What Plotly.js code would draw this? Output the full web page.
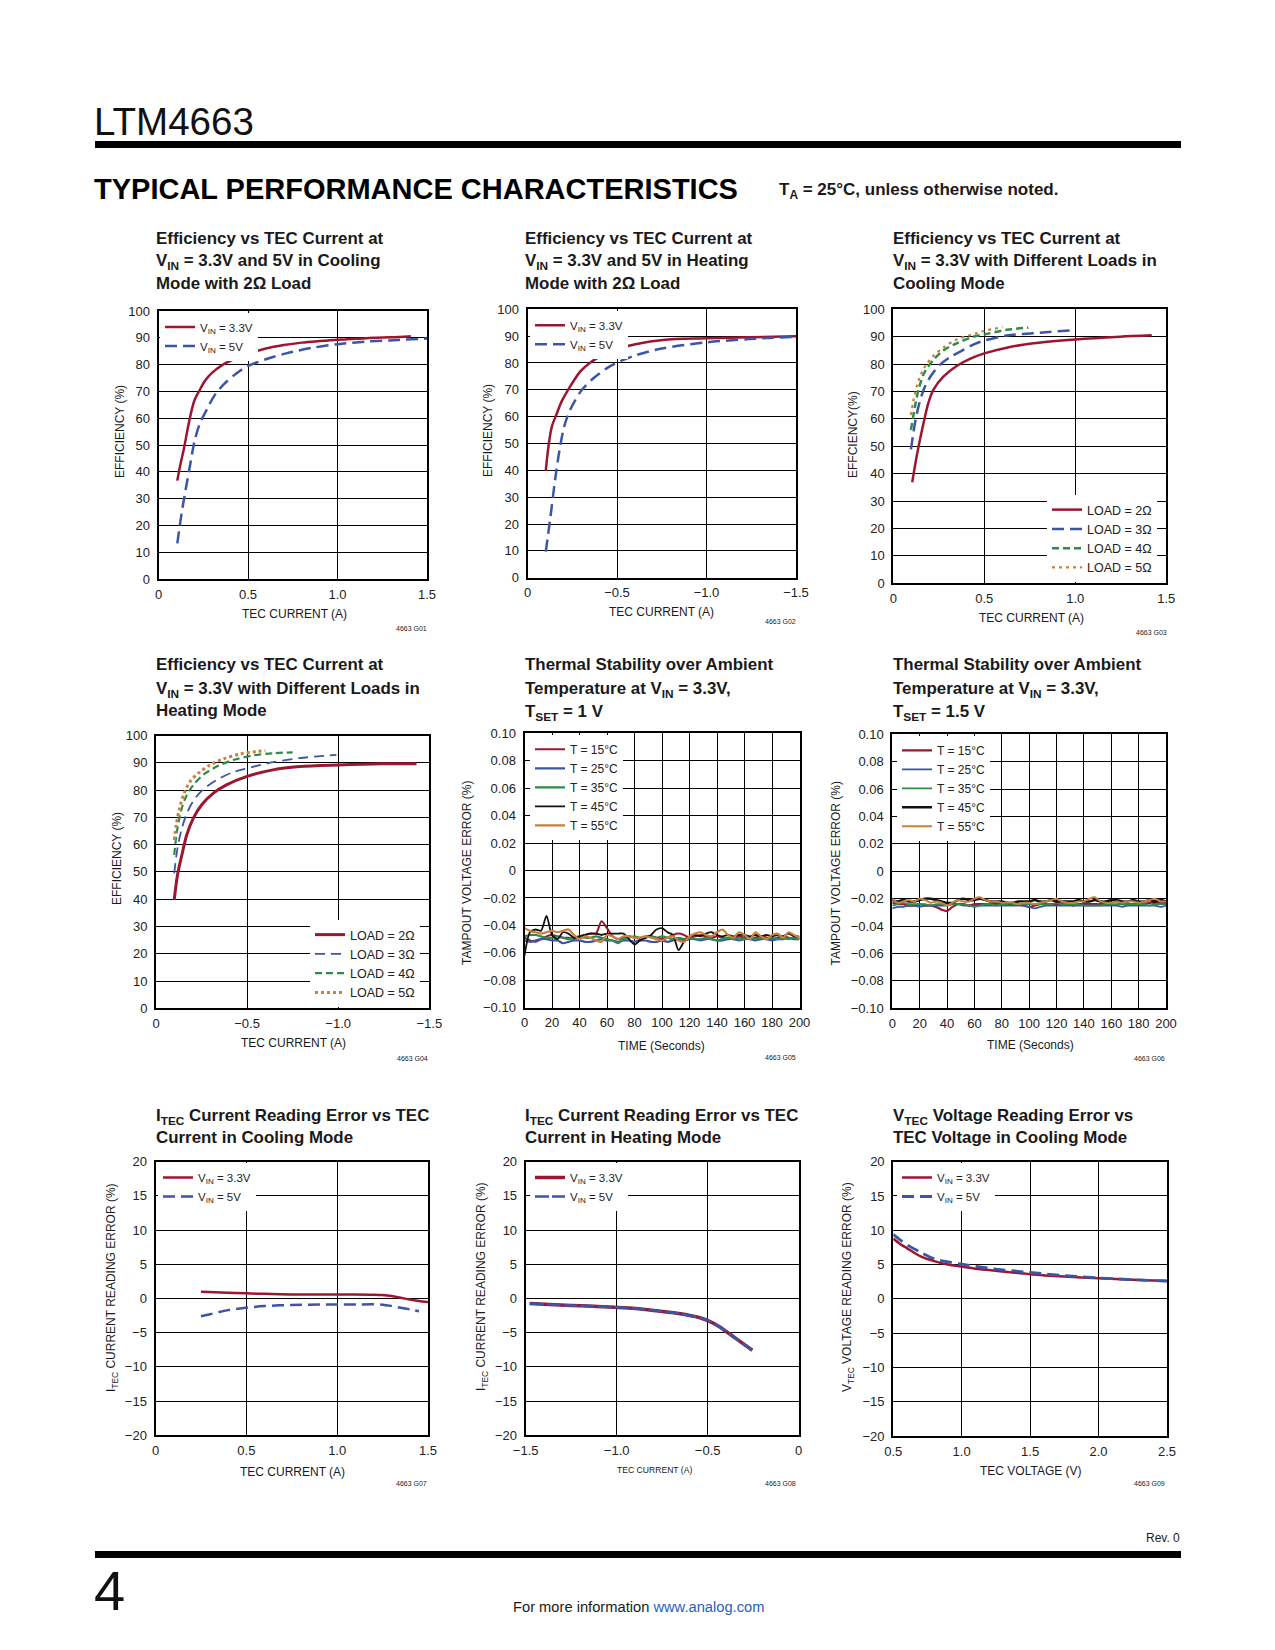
<!DOCTYPE html>
<html><head><meta charset="utf-8">
<script src="https://cdn.plot.ly/plotly-3.0.1.min.js"></script>
<style>html,body{margin:0;padding:0;background:#fff}#page{width:1275px;height:1650px}</style>
</head><body><div id="page"></div>
<script>
// ================= DATA =================
// G01 – efficiency, cooling, 2 ohm
const g01x33 = [0.105,0.12,0.143,0.172,0.2,0.23,0.26,0.3,0.36,0.42,0.5,0.6,0.7,0.8,0.9,1.0,1.1,1.2,1.3,1.41];
const g01y33 = [36.7,42,49,59,66.5,70.5,74,77,80,82,84,86,87.3,88.2,88.8,89.3,89.6,90,90.2,90.6];
const g01x5  = [0.105,0.129,0.148,0.175,0.203,0.231,0.268,0.315,0.37,0.435,0.5,0.6,0.714,0.862,1.0,1.16,1.34,1.5];
const g01y5  = [13.3,24.5,32,42,51.9,58,63,68.7,73,76.7,79.5,82,84.2,86.3,87.6,88.6,89.2,89.7];
// G02 – efficiency, heating, 2 ohm
const g02x33 = [-0.102,-0.117,-0.136,-0.164,-0.19,-0.238,-0.294,-0.35,-0.424,-0.5,-0.61,-0.758,-1.0,-1.24,-1.5];
const g02y33 = [39.8,48.8,56.3,61.2,65.6,71.2,76.8,80.1,83,85.2,87.1,88.6,89.2,89.6,90];
const g02x5  = [-0.102,-0.126,-0.154,-0.182,-0.21,-0.247,-0.303,-0.368,-0.442,-0.5,-0.61,-0.758,-1.0,-1.24,-1.35,-1.5];
const g02y5  = [9.7,21.5,36.4,48.8,57.5,63.7,69.9,74.3,78,80.1,83,85.5,87.7,88.9,89.3,89.8];
// G03 – efficiency, cooling, loads
const g03x2 = [0.104,0.128,0.15,0.174,0.192,0.22,0.275,0.348,0.421,0.5,0.623,0.77,1.0,1.245,1.42];
const g03y2 = [36.9,46.2,53.5,60.8,65.7,70.6,75.4,79.3,81.9,83.9,86,87.6,89,90,90.5];
const g03x3 = [0.097,0.119,0.143,0.174,0.21,0.256,0.311,0.385,0.44,0.5,0.623,0.77,0.98];
const g03y3 = [48.9,58.4,65.7,71.8,76,79.7,82.5,85.2,87.1,88.6,90.4,91.3,92.3];
const g03x4 = [0.097,0.119,0.143,0.174,0.22,0.275,0.348,0.44,0.5,0.623,0.742];
const g03y4 = [56,64.5,71.8,77.3,81.5,85,87.6,90,90.8,92.5,93.3];
const g03x5 = [0.097,0.11,0.132,0.156,0.183,0.22,0.275,0.348,0.44,0.5,0.6];
const g03y5 = [61.4,66.5,72.6,76.9,80,83,86,89,90.9,92.1,93.5];
// G04 – efficiency, heating, loads
const g04x2 = [-0.1,-0.118,-0.142,-0.169,-0.205,-0.251,-0.315,-0.387,-0.5,-0.642,-0.787,-1.0,-1.24,-1.43];
const g04y2 = [39.7,48.9,56.2,63.6,69.7,74.6,78.9,81.9,85,87.4,88.6,89.2,89.6,89.6];
const g04x3 = [-0.1,-0.118,-0.142,-0.173,-0.215,-0.26,-0.333,-0.424,-0.5,-0.642,-0.787,-0.99];
const g04y3 = [49.5,58.7,66,72.1,77,80.3,83.7,86.6,88,90.2,91.7,92.9];
const g04x4 = [-0.1,-0.115,-0.136,-0.165,-0.205,-0.26,-0.333,-0.424,-0.533,-0.642,-0.75];
const g04y4 = [56.2,64.8,72.1,77.6,81.9,85.6,88.6,91,92.7,93.5,93.8];
const g04x5 = [-0.1,-0.111,-0.129,-0.155,-0.187,-0.233,-0.296,-0.369,-0.46,-0.55,-0.6];
const g04y5 = [61.7,67.2,73.3,78.9,83.1,86.2,89.2,91.4,93.2,94.1,94.4];
// G05 / G06 – thermal stability, time in seconds
const tsTime = [0,4,8,12,16,20,24,28,32,36,40,44,48,52,56,60,64,68,72,76,80,84,88,92,96,100,104,108,112,116,120,124,128,132,136,140,144,148,152,156,160,164,168,172,176,180,184,188,192,196,200];
const g05t15 = [-0.049,-0.051,-0.052,-0.050,-0.048,-0.047,-0.048,-0.049,-0.049,-0.050,-0.048,-0.047,-0.046,-0.046,-0.037,-0.042,-0.048,-0.050,-0.049,-0.048,-0.049,-0.050,-0.049,-0.048,-0.049,-0.050,-0.049,-0.047,-0.046,-0.047,-0.049,-0.048,-0.047,-0.048,-0.049,-0.048,-0.049,-0.050,-0.049,-0.048,-0.049,-0.050,-0.049,-0.048,-0.049,-0.050,-0.049,-0.048,-0.049,-0.050,-0.049];
const g05t25 = [-0.051,-0.052,-0.051,-0.050,-0.050,-0.051,-0.051,-0.053,-0.052,-0.051,-0.051,-0.052,-0.052,-0.051,-0.050,-0.051,-0.051,-0.052,-0.051,-0.051,-0.052,-0.051,-0.051,-0.052,-0.052,-0.051,-0.052,-0.051,-0.050,-0.051,-0.050,-0.050,-0.051,-0.050,-0.050,-0.051,-0.051,-0.050,-0.050,-0.051,-0.050,-0.050,-0.051,-0.050,-0.050,-0.051,-0.050,-0.050,-0.049,-0.050,-0.050];
const g05t35 = [-0.048,-0.047,-0.047,-0.048,-0.049,-0.049,-0.048,-0.049,-0.050,-0.049,-0.048,-0.049,-0.049,-0.048,-0.049,-0.050,-0.051,-0.053,-0.050,-0.049,-0.048,-0.049,-0.048,-0.048,-0.049,-0.048,-0.049,-0.050,-0.049,-0.050,-0.049,-0.050,-0.050,-0.049,-0.050,-0.051,-0.050,-0.049,-0.050,-0.049,-0.050,-0.049,-0.050,-0.049,-0.050,-0.049,-0.050,-0.049,-0.050,-0.049,-0.050];
const g05t45 = [-0.062,-0.045,-0.043,-0.044,-0.033,-0.047,-0.050,-0.045,-0.046,-0.049,-0.048,-0.047,-0.046,-0.046,-0.047,-0.046,-0.046,-0.046,-0.046,-0.050,-0.054,-0.051,-0.049,-0.047,-0.043,-0.042,-0.045,-0.047,-0.058,-0.052,-0.048,-0.047,-0.048,-0.046,-0.045,-0.047,-0.048,-0.047,-0.048,-0.047,-0.047,-0.048,-0.047,-0.048,-0.047,-0.048,-0.047,-0.048,-0.046,-0.048,-0.048];
const g05t55 = [-0.042,-0.044,-0.045,-0.046,-0.045,-0.044,-0.045,-0.044,-0.043,-0.047,-0.050,-0.048,-0.049,-0.051,-0.052,-0.047,-0.048,-0.050,-0.048,-0.048,-0.049,-0.049,-0.048,-0.049,-0.050,-0.051,-0.049,-0.048,-0.051,-0.052,-0.048,-0.046,-0.045,-0.047,-0.048,-0.045,-0.043,-0.047,-0.049,-0.045,-0.047,-0.050,-0.045,-0.048,-0.050,-0.047,-0.046,-0.049,-0.045,-0.047,-0.049];
const g06t15 = [-0.023,-0.024,-0.024,-0.025,-0.025,-0.024,-0.025,-0.025,-0.026,-0.028,-0.029,-0.026,-0.024,-0.024,-0.025,-0.024,-0.024,-0.024,-0.024,-0.024,-0.024,-0.024,-0.024,-0.024,-0.025,-0.026,-0.025,-0.024,-0.024,-0.024,-0.024,-0.024,-0.024,-0.025,-0.024,-0.024,-0.024,-0.024,-0.024,-0.023,-0.021,-0.022,-0.024,-0.024,-0.024,-0.024,-0.024,-0.023,-0.023,-0.023,-0.023];
const g06t25 = [-0.027,-0.026,-0.026,-0.025,-0.025,-0.026,-0.025,-0.025,-0.025,-0.025,-0.025,-0.024,-0.024,-0.025,-0.025,-0.025,-0.025,-0.025,-0.025,-0.025,-0.025,-0.025,-0.025,-0.025,-0.025,-0.026,-0.027,-0.026,-0.025,-0.025,-0.025,-0.025,-0.025,-0.025,-0.025,-0.025,-0.025,-0.025,-0.025,-0.025,-0.025,-0.025,-0.026,-0.025,-0.025,-0.025,-0.025,-0.025,-0.025,-0.026,-0.025];
const g06t35 = [-0.025,-0.024,-0.023,-0.024,-0.024,-0.024,-0.024,-0.025,-0.024,-0.024,-0.024,-0.024,-0.024,-0.024,-0.025,-0.026,-0.025,-0.024,-0.024,-0.025,-0.024,-0.024,-0.024,-0.024,-0.024,-0.024,-0.024,-0.024,-0.024,-0.024,-0.023,-0.024,-0.024,-0.024,-0.024,-0.025,-0.025,-0.025,-0.025,-0.024,-0.024,-0.024,-0.024,-0.024,-0.024,-0.024,-0.024,-0.025,-0.024,-0.024,-0.024];
const g06t45 = [-0.021,-0.022,-0.021,-0.022,-0.022,-0.021,-0.020,-0.020,-0.021,-0.022,-0.023,-0.023,-0.021,-0.020,-0.021,-0.021,-0.020,-0.021,-0.022,-0.022,-0.022,-0.023,-0.023,-0.022,-0.022,-0.022,-0.021,-0.022,-0.022,-0.021,-0.022,-0.022,-0.022,-0.022,-0.021,-0.022,-0.022,-0.021,-0.022,-0.022,-0.021,-0.021,-0.022,-0.022,-0.021,-0.022,-0.022,-0.021,-0.022,-0.021,-0.022];
const g06t55 = [-0.020,-0.023,-0.022,-0.021,-0.022,-0.020,-0.021,-0.023,-0.022,-0.023,-0.025,-0.023,-0.021,-0.022,-0.022,-0.020,-0.019,-0.021,-0.022,-0.022,-0.023,-0.023,-0.023,-0.024,-0.023,-0.023,-0.024,-0.023,-0.022,-0.021,-0.020,-0.022,-0.023,-0.023,-0.022,-0.022,-0.020,-0.019,-0.022,-0.023,-0.023,-0.022,-0.023,-0.022,-0.022,-0.023,-0.022,-0.021,-0.020,-0.022,-0.022];
// G07 – ITEC reading error, cooling
const g07x33 = [0.25,0.4,0.5,0.6,0.75,0.9,1.0,1.1,1.2,1.25,1.3,1.35,1.4,1.45,1.5];
const g07y33 = [1.0,0.85,0.75,0.68,0.6,0.58,0.58,0.58,0.55,0.5,0.35,0.1,-0.15,-0.35,-0.5];
const g07x5  = [0.25,0.3,0.4,0.5,0.6,0.75,0.9,1.0,1.1,1.2,1.25,1.3,1.35,1.4,1.45];
const g07y5  = [-2.6,-2.3,-1.7,-1.35,-1.1,-0.95,-0.88,-0.88,-0.87,-0.85,-0.9,-1.1,-1.35,-1.6,-1.85];
// G08 – ITEC reading error, heating
const g08x33 = [-1.478,-1.369,-1.25,-1.133,-1.015,-0.896,-0.78,-0.66,-0.547,-0.496,-0.44,-0.34,-0.255];
const g08y33 = [-0.73,-0.88,-1.02,-1.12,-1.27,-1.46,-1.8,-2.2,-2.78,-3.27,-4.05,-5.95,-7.56];
const g08x5  = [-1.478,-1.369,-1.25,-1.133,-1.015,-0.896,-0.78,-0.66,-0.547,-0.496,-0.44,-0.34,-0.255];
const g08y5  = [-0.73,-0.88,-1.02,-1.12,-1.27,-1.46,-1.8,-2.2,-2.78,-3.27,-4.05,-5.95,-7.56];
// G09 – VTEC reading error, cooling
const g09x33 = [0.5,0.55,0.6,0.7,0.8,0.9,1.0,1.1,1.25,1.5,1.75,2.0,2.25,2.5];
const g09y33 = [8.8,8.0,7.4,6.2,5.5,5.0,4.7,4.4,4.1,3.6,3.25,3.0,2.8,2.6];
const g09x5  = [0.5,0.55,0.6,0.7,0.8,0.9,1.0,1.1,1.25,1.5,1.75,2.0,2.25,2.5];
const g09y5  = [9.4,8.6,7.9,6.8,5.85,5.4,5.05,4.75,4.35,3.85,3.4,3.05,2.8,2.6];

// Tick labels
const effTickVals = [0,10,20,30,40,50,60,70,80,90,100];
const effTickText = ["0","10","20","30","40","50","60","70","80","90","100"];
const coolTickVals = [0,0.5,1,1.5];
const coolTickText = ["0","0.5","1.0","1.5"];
const heatTickVals = [0,-0.5,-1,-1.5];
const heatTickText = ["0","\u22120.5","\u22121.0","\u22121.5"];
const timeTickVals = [0,20,40,60,80,100,120,140,160,180,200];
const timeTickText = ["0","20","40","60","80","100","120","140","160","180","200"];
const errTickVals = [-0.1,-0.08,-0.06,-0.04,-0.02,0,0.02,0.04,0.06,0.08,0.1];
const errTickText = ["\u22120.10","\u22120.08","\u22120.06","\u22120.04","\u22120.02","0","0.02","0.04","0.06","0.08","0.10"];
const readTickVals = [-20,-15,-10,-5,0,5,10,15,20];
const readTickText = ["\u221220","\u221215","\u221210","\u22125","0","5","10","15","20"];
const voltTickVals = [0.5,1,1.5,2,2.5];
const voltTickText = ["0.5","1.0","1.5","2.0","2.5"];

// ================= STYLE / LAYOUT =================
const W = 1275, H = 1650;
const FN = '"Liberation Sans", Arial, Helvetica, sans-serif';
const RED = '#9c1632', BLUE = '#3b56a6', GREEN = '#2f8b4a', ORANGE = '#c8803d', BLACK = '#111111';
const boxes = {
  1:[158.5,427,311,579], 2:[527.5,796,309.3,577.7], 3:[893.3,1166.3,309.3,583.3],
  4:[156,429.3,735.5,1008.3], 5:[524.5,799.5,733.3,1007.7], 6:[892.3,1166,734.3,1008.3],
  7:[155.5,428,1161.7,1435.3], 8:[525.7,798.7,1161.7,1435.3], 9:[893.2,1167,1161.7,1436]
};
const py = y => 1 - y / H;
const sfx = n => n === 1 ? '' : String(n);

function axis(n, dir, range, vals, text) {
  const b = boxes[n];
  const dom = dir === 'x' ? [b[0] / W, b[1] / W] : [1 - b[3] / H, 1 - b[2] / H];
  return {
    domain: dom, range: range, tickmode: 'array', tickvals: vals, ticktext: text,
    showgrid: true, gridcolor: '#000', gridwidth: 1,
    showline: true, mirror: true, linecolor: '#000', linewidth: 2,
    zeroline: false, ticks: '', ticklabelstandoff: dir === 'x' ? 2 : 4,
    tickfont: {family: FN, size: 13, color: '#222'},
    anchor: (dir === 'x' ? 'y' : 'x') + sfx(n), fixedrange: true
  };
}
function tr(n, name, x, y, color, width, dash, smooth) {
  return {
    type: 'scatter', mode: 'lines', x: x, y: y, name: name,
    xaxis: 'x' + sfx(n), yaxis: 'y' + sfx(n), legend: 'legend' + sfx(n),
    line: {color: color, width: width, dash: dash || 'solid', shape: 'spline', smoothing: smooth === undefined ? 0.9 : smooth},
    hoverinfo: 'skip'
  };
}
function leg(left, yy, anchorY, size) {
  return {
    x: left / W, y: py(yy), xanchor: 'left', yanchor: anchorY, xref: 'paper', yref: 'paper',
    bgcolor: '#ffffff', borderwidth: 0, font: {family: FN, size: size, color: '#222'},
    itemwidth: 30, tracegroupgap: 0, traceorder: 'normal'
  };
}
function ann(x, y, text, size, opts) {
  return Object.assign({
    xref: 'paper', yref: 'paper', x: x / W, y: py(y), text: text, showarrow: false,
    xanchor: 'left', yanchor: 'middle', font: {family: FN, size: size, color: '#1a1a1a'}
  }, opts || {});
}

const VIN33 = 'V<sub>IN</sub> = 3.3V', VIN5 = 'V<sub>IN</sub> = 5V';
const traces = [
  tr(1, VIN33, g01x33, g01y33, RED, 2.5),
  tr(1, VIN5, g01x5, g01y5, BLUE, 2.5, '12px,6px'),
  tr(2, VIN33, g02x33, g02y33, RED, 2.5),
  tr(2, VIN5, g02x5, g02y5, BLUE, 2.5, '12px,6px'),
  tr(3, 'LOAD = 2\u03a9', g03x2, g03y2, RED, 2.5),
  tr(3, 'LOAD = 3\u03a9', g03x3, g03y3, BLUE, 2.5, '12px,6px'),
  tr(3, 'LOAD = 4\u03a9', g03x4, g03y4, GREEN, 2.5, '7px,4px'),
  tr(3, 'LOAD = 5\u03a9', g03x5, g03y5, ORANGE, 2.2, '3px,4px'),
  tr(4, 'LOAD = 2\u03a9', g04x2, g04y2, RED, 3),
  tr(4, 'LOAD = 3\u03a9', g04x3, g04y3, BLUE, 1.8, '10px,6px'),
  tr(4, 'LOAD = 4\u03a9', g04x4, g04y4, GREEN, 2.2, '7px,4px'),
  tr(4, 'LOAD = 5\u03a9', g04x5, g04y5, ORANGE, 3, '3px,3px'),
  tr(5, 'T = 15\u00b0C', tsTime, g05t15, RED, 2, 'solid', 0.7),
  tr(5, 'T = 25\u00b0C', tsTime, g05t25, BLUE, 2.2, 'solid', 0.7),
  tr(5, 'T = 35\u00b0C', tsTime, g05t35, GREEN, 2.2, 'solid', 0.7),
  tr(5, 'T = 45\u00b0C', tsTime, g05t45, BLACK, 1.8, 'solid', 0.7),
  tr(5, 'T = 55\u00b0C', tsTime, g05t55, ORANGE, 2.2, 'solid', 0.7),
  tr(6, 'T = 15\u00b0C', tsTime, g06t15, RED, 2.2, 'solid', 0.7),
  tr(6, 'T = 25\u00b0C', tsTime, g06t25, BLUE, 1.8, 'solid', 0.7),
  tr(6, 'T = 35\u00b0C', tsTime, g06t35, GREEN, 1.8, 'solid', 0.7),
  tr(6, 'T = 45\u00b0C', tsTime, g06t45, BLACK, 2.4, 'solid', 0.7),
  tr(6, 'T = 55\u00b0C', tsTime, g06t55, ORANGE, 2, 'solid', 0.7),
  tr(7, VIN33, g07x33, g07y33, RED, 2.5),
  tr(7, VIN5, g07x5, g07y5, BLUE, 2.5, '12px,6px'),
  tr(8, VIN33, g08x33, g08y33, RED, 3.5),
  tr(8, VIN5, g08x5, g08y5, BLUE, 2.6, '14px,3px'),
  tr(9, VIN33, g09x33, g09y33, RED, 2.5),
  tr(9, VIN5, g09x5, g09y5, BLUE, 2.8, '12px,6px')
];

const layout = {
  width: W, height: H, margin: {l: 0, r: 0, t: 0, b: 0},
  paper_bgcolor: '#ffffff', plot_bgcolor: '#ffffff',
  font: {family: FN, color: '#1a1a1a'}, showlegend: true,
  xaxis: axis(1, 'x', [0, 1.5], coolTickVals, coolTickText),
  yaxis: axis(1, 'y', [0, 100], effTickVals, effTickText),
  xaxis2: axis(2, 'x', [0, -1.5], heatTickVals, heatTickText),
  yaxis2: axis(2, 'y', [0, 100], effTickVals, effTickText),
  xaxis3: axis(3, 'x', [0, 1.5], coolTickVals, coolTickText),
  yaxis3: axis(3, 'y', [0, 100], effTickVals, effTickText),
  xaxis4: axis(4, 'x', [0, -1.5], heatTickVals, heatTickText),
  yaxis4: axis(4, 'y', [0, 100], effTickVals, effTickText),
  xaxis5: axis(5, 'x', [0, 200], timeTickVals, timeTickText),
  yaxis5: axis(5, 'y', [-0.1, 0.1], errTickVals, errTickText),
  xaxis6: axis(6, 'x', [0, 200], timeTickVals, timeTickText),
  yaxis6: axis(6, 'y', [-0.1, 0.1], errTickVals, errTickText),
  xaxis7: axis(7, 'x', [0, 1.5], coolTickVals, coolTickText),
  yaxis7: axis(7, 'y', [-20, 20], readTickVals, readTickText),
  xaxis8: axis(8, 'x', [-1.5, 0], heatTickVals, heatTickText),
  yaxis8: axis(8, 'y', [-20, 20], readTickVals, readTickText),
  xaxis9: axis(9, 'x', [0.5, 2.5], voltTickVals, voltTickText),
  yaxis9: axis(9, 'y', [-20, 20], readTickVals, readTickText),
  legend:  leg(160, 312.5, 'top', 11.5),
  legend2: leg(530, 310.8, 'top', 11.5),
  legend3: leg(1047, 582, 'bottom', 12.5),
  legend4: leg(310, 1007, 'bottom', 12.5),
  legend5: leg(530, 734.8, 'top', 12),
  legend6: leg(897, 735.8, 'top', 12),
  legend7: leg(158, 1163, 'top', 11.5),
  legend8: leg(530, 1163, 'top', 11.5),
  legend9: leg(897, 1163, 'top', 11.5),
  shapes: [
    {type: 'rect', xref: 'paper', yref: 'paper', x0: 95 / W, x1: 1181 / W, y0: py(148), y1: py(141), fillcolor: '#000', line: {width: 0}},
    {type: 'rect', xref: 'paper', yref: 'paper', x0: 95 / W, x1: 1181 / W, y0: py(1558), y1: py(1551), fillcolor: '#000', line: {width: 0}}
  ],
  annotations: []
};

const A = layout.annotations;
// header / footer
A.push(ann(92, 121, 'LTM4663', 38.5, {font: {family: FN, size: 38.5, color: '#111'}}));
A.push(ann(92, 188.5, '<b>TYPICAL PERFORMANCE CHARACTERISTICS</b>', 29, {font: {family: FN, size: 29, color: '#000'}}));
A.push(ann(777, 190.5, '<b>T<sub>A</sub> = 25\u00b0C, unless otherwise noted.</b>', 17));
A.push(ann(1182, 1538, 'Rev. 0', 12, {xanchor: 'right'}));
A.push(ann(92, 1590, '4', 56, {font: {family: FN, size: 56, color: '#111'}}));
A.push(ann(638, 1607, 'For more information <span style="color:#1f5fc0">www.analog.com</span>', 14.7, {xanchor: 'center'}));

// chart titles (lines holding a subscript are nudged down so baselines stay evenly spaced)
function title(x, ys, lines) {
  lines.forEach((t, i) => A.push(ann(x, ys[i] + (t.indexOf('<sub>') >= 0 ? 2 : 0), '<b>' + t + '</b>', 16.9)));
}
const row1 = [238, 260.5, 283], row2 = [664.5, 687.5, 710.5], row3 = [1114.5, 1137.5];
title(154, row1, ['Efficiency vs TEC Current at', 'V<sub>IN</sub> = 3.3V and 5V in Cooling', 'Mode with 2\u03a9 Load']);
title(522.5, row1, ['Efficiency vs TEC Current at', 'V<sub>IN</sub> = 3.3V and 5V in Heating', 'Mode with 2\u03a9 Load']);
title(891, row1, ['Efficiency vs TEC Current at', 'V<sub>IN</sub> = 3.3V with Different Loads in', 'Cooling Mode']);
title(154, row2, ['Efficiency vs TEC Current at', 'V<sub>IN</sub> = 3.3V with Different Loads in', 'Heating Mode']);
title(522.5, row2, ['Thermal Stability over Ambient', 'Temperature at V<sub>IN</sub> = 3.3V,', 'T<sub>SET</sub> = 1 V']);
title(891, row2, ['Thermal Stability over Ambient', 'Temperature at V<sub>IN</sub> = 3.3V,', 'T<sub>SET</sub> = 1.5 V']);
title(154, row3, ['I<sub>TEC</sub> Current Reading Error vs TEC', 'Current in Cooling Mode']);
title(522.5, row3, ['I<sub>TEC</sub> Current Reading Error vs TEC', 'Current in Heating Mode']);
title(891, row3, ['V<sub>TEC</sub> Voltage Reading Error vs', 'TEC Voltage in Cooling Mode']);

// y-axis titles
function ytitle(x, y, t) { A.push(ann(x, y, t, 12, {textangle: -90, xanchor: 'center'})); }
ytitle(120, 432, 'EFFICIENCY (%)');
ytitle(488, 431, 'EFFICIENCY (%)');
ytitle(853, 435, 'EFFCIENCY(%)');
ytitle(117, 859, 'EFFICIENCY (%)');
ytitle(467, 873, 'TAMPOUT VOLTAGE ERROR (%)');
ytitle(835, 873.5, 'TAMPOUT VOLTAGE ERROR (%)');
ytitle(112, 1288, 'I<sub>TEC</sub> CURRENT READING ERROR (%)');
ytitle(482, 1287, 'I<sub>TEC</sub> CURRENT READING ERROR (%)');
ytitle(848, 1287, 'V<sub>TEC</sub> VOLTAGE READING ERROR (%)');

// x-axis titles
function xtitle(x, y, t, s) { A.push(ann(x, y, t, s || 12, {xanchor: 'center'})); }
xtitle(294, 614, 'TEC CURRENT (A)');
xtitle(662, 612, 'TEC CURRENT (A)');
xtitle(1031, 618, 'TEC CURRENT (A)');
xtitle(293, 1042.5, 'TEC CURRENT (A)');
xtitle(662, 1045.5, 'TIME (Seconds)');
xtitle(1030, 1044.5, 'TIME (Seconds)');
xtitle(292, 1472, 'TEC CURRENT (A)');
xtitle(654, 1470, 'TEC CURRENT (A)', 8.6);
xtitle(1031, 1471, 'TEC VOLTAGE (V)');

// figure codes
function code(x, y, t) { A.push(ann(x, y, t, 7, {xanchor: 'right'})); }
code(429, 628.5, '4663 G01');
code(798, 621, '4663 G02');
code(1168.5, 632, '4663 G03');
code(429.5, 1058, '4663 G04');
code(798, 1057, '4663 G05');
code(1167, 1058, '4663 G06');
code(428.5, 1483, '4663 G07');
code(798, 1483, '4663 G08');
code(1167, 1483, '4663 G09');

Plotly.newPlot('page', traces, layout, {displayModeBar: false, staticPlot: true});
</script>
</body></html>
